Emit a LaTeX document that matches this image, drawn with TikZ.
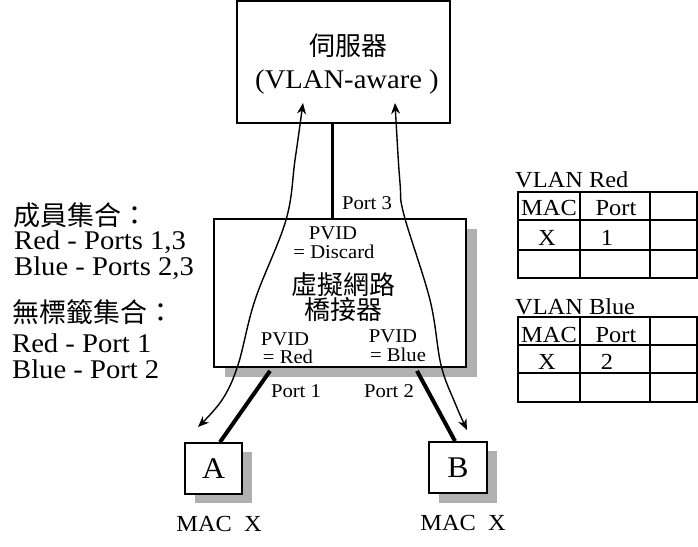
\documentclass[tikz,border=0pt]{standalone}
\usepackage{fontspec}
\setmainfont{Liberation Serif}[FakeStretch=1.06]
\newfontfamily\cjk{Noto Sans CJK TC}
\usetikzlibrary{arrows.meta}
\definecolor{shadowgray}{RGB}{176,176,176}
\begin{document}
\begin{tikzpicture}[x=1pt,y=-1pt,
  box/.style={draw, line width=1.8pt, fill=white, inner sep=0pt},
  shade/.style={fill=shadowgray, draw=none},
  lbl/.style={inner sep=0pt, anchor=base},
  big/.style={font=\fontsize{27}{27}\selectfont},
  mid/.style={font=\fontsize{23}{23}\selectfont},
  small/.style={font=\fontsize{19.5}{19.5}\selectfont},
  cjkbig/.style={font=\cjk\fontsize{27}{27}\selectfont, inner sep=0pt},
  cjkmid/.style={font=\cjk\fontsize{26}{26}\selectfont, inner sep=0pt},
  thickline/.style={line width=4pt},
  p3line/.style={line width=3pt},
  flow/.style={line width=1.4pt, {Stealth[length=11pt,width=9pt]}-{Stealth[length=11pt,width=9pt]}},
  grid/.style={line width=1.8pt}
]
\useasboundingbox (0,0) rectangle (698,546);

% server
\node[box, minimum width=213pt, minimum height=122pt] (srv) at (343.5,62) {};
\node[cjkmid] (srvt) at (348,46) {伺服器};
\node[lbl, font=\fontsize{27}{27}\selectfont] (srva) at (347,88) {(VLAN-aware )};

% bridge
\fill[shade] (225,229) rectangle (477,377);
\node[box, minimum width=252pt, minimum height=148pt] (br) at (340,293) {};
\node[lbl, small] (pv3) at (333,239) {PVID};
\node[lbl, small] (pv3b) at (334,258) {= Discard};
\node[cjkmid] (brt1) at (343,285) {虛擬網路};
\node[cjkmid] (brt2) at (343,310) {橋接器};
\node[lbl, small] (pv1) at (285,345) {PVID};
\node[lbl, small] (pv1b) at (288,363) {= Red};
\node[lbl, small] (pv2) at (393,342) {PVID};
\node[lbl, small] (pv2b) at (398,361) {= Blue};

% port 3
\draw[p3line] ([xshift=-11.5pt]srv.south) -- ([xshift=-11.5pt]srv.south |- br.north);
\node[lbl, small] (port3) at (367,209) {Port 3};
\node[lbl, small] (port1) at (296,397) {Port 1};
\node[lbl, small] (port2) at (389,397) {Port 2};

% hosts
\fill[shade] (195,452) rectangle (252,503);
\node[box, minimum width=57pt, minimum height=51pt, font=\fontsize{30}{30}\selectfont] (A) at (213.5,468.5) {A};
\fill[shade] (439,451) rectangle (497,503);
\node[box, minimum width=58pt, minimum height=51pt, font=\fontsize{30}{30}\selectfont] (B) at (458,467.5) {B};
\node[lbl, mid] (macA) at (219,531) {MAC\ \ X};
\node[lbl, mid] (macB) at (463,530) {MAC\ \ X};

\draw[thickline] ([shift={(-70,3)}]br.south) -- ([xshift=6.5pt]A.north);
\draw[thickline] ([shift={(77,3)}]br.south) -- ([xshift=-3pt]B.north);

% flow arrows
\coordinate (l0) at (303,103);
\coordinate (l1) at (295,160);
\coordinate (l2) at (286,220);
\coordinate (l3) at (255,300);
\coordinate (l4) at (238,365);
\coordinate (l5) at (222,400);
\coordinate (l6) at (198,427);
\draw[flow] plot[smooth, tension=0.6] coordinates {(l0) (l1) (l2) (l3) (l4) (l5) (l6)};
\coordinate (r0) at (395,103);
\coordinate (r1) at (400,183);
\coordinate (r2) at (404,215);
\coordinate (r3) at (430,300);
\coordinate (r4) at (441,365);
\coordinate (r5) at (455,403);
\coordinate (r6) at (467,430);
\draw[flow] plot[smooth, tension=0.6] coordinates {(r0) (r1) (r2) (r3) (r4) (r5) (r6)};

% left text
\node[cjkbig, anchor=west] (mem) at (13,215) {成員集合：};
\node[lbl, big, anchor=base west] (mem1) at (14,249) {Red - Ports 1,3};
\node[lbl, big, anchor=base west] (mem2) at (14,275) {Blue - Ports 2,3};
\node[cjkbig, anchor=west] (unt) at (12,312) {無標籤集合：};
\node[lbl, big, anchor=base west] (unt1) at (12,352) {Red - Port 1};
\node[lbl, big, anchor=base west] (unt2) at (12,378) {Blue - Port 2};

% VLAN Red table
\node[lbl, mid, anchor=base west] (vr) at (515,187) {VLAN Red};
\draw[grid] (518,192) rectangle (697,278);
\draw[grid] (518,220) -- (697,220) (518,250) -- (697,250)
  (580,192) -- (580,278) (650,192) -- (650,278);
\node[lbl, mid] (vrm) at (549,215) {MAC};
\node[lbl, mid] (vrp) at (616,215) {Port};
\node[lbl, mid] (vrx) at (547,245) {X};
\node[lbl, mid] (vr1) at (607,245) {1};

% VLAN Blue table
\node[lbl, mid, anchor=base west] (vb) at (515,314) {VLAN Blue};
\draw[grid] (518,317) rectangle (697,402);
\draw[grid] (518,345) -- (697,345) (518,373) -- (697,373)
  (580,317) -- (580,402) (650,317) -- (650,402);
\node[lbl, mid] (vbm) at (549,342) {MAC};
\node[lbl, mid] (vbp) at (616,342) {Port};
\node[lbl, mid] (vbx) at (547,369) {X};
\node[lbl, mid] (vb2) at (607,369) {2};
\end{tikzpicture}
\end{document}
